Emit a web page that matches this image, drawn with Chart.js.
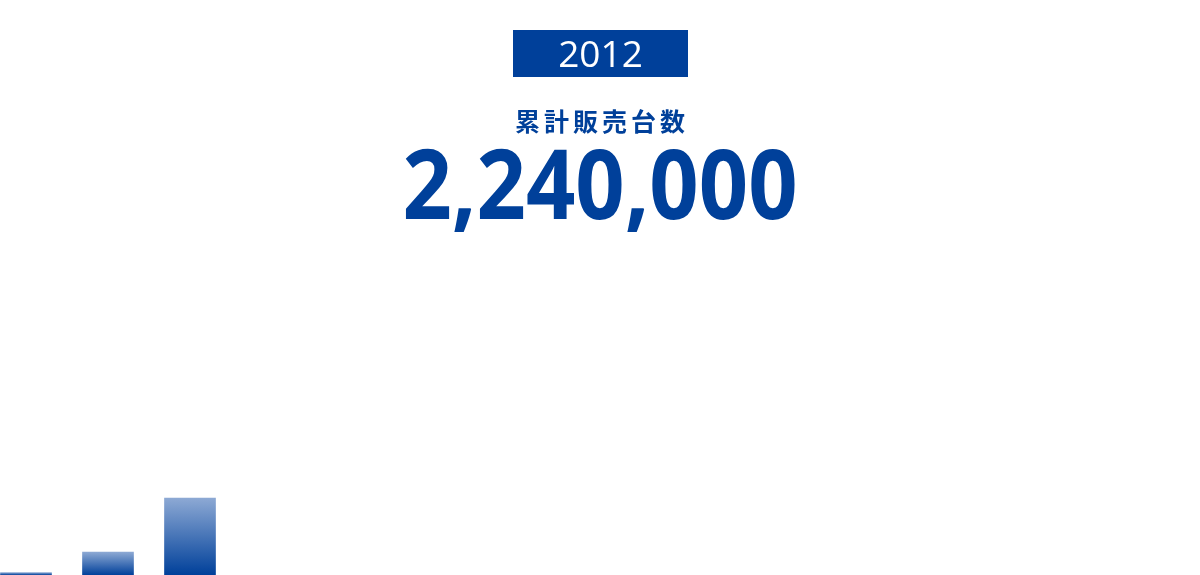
<!DOCTYPE html>
<html lang="ja">
<head>
<meta charset="utf-8">
<title>累計販売台数</title>
<script src="https://cdn.jsdelivr.net/npm/chart.js@4/dist/chart.umd.min.js"></script>
<style>
  html, body { margin: 0; padding: 0; background: #fff; overflow: hidden; }
  #wrap { position: relative; width: 1200px; height: 575px; }
  #chart { position: absolute; left: 0; top: 0; }
  .year {
    position: absolute; left: 513px; top: 30px; width: 175px; height: 47px;
    background: #00409a;
  }
  .year span {
    position: absolute; left: 0; width: 175px; top: 4px; text-align: center;
    color: #fff; font-family: "Open Sans", sans-serif; font-size: 37px; line-height: 37px;
  }
  .label {
    position: absolute; left: 0; width: 1204px; top: 108px; text-align: center;
    color: #00409a; font-family: "Noto Sans CJK JP", sans-serif; font-size: 25px;
    line-height: 25px; letter-spacing: 4px; font-weight: 600;
  }
  .total {
    position: absolute; left: 0; width: 1200px; top: 134px; text-align: center;
    color: #00409a; font-family: "Open Sans", sans-serif; font-weight: 700;
    font-size: 96px; line-height: 96px; transform: scaleX(0.9);
  }
</style>
</head>
<body>
<div id="wrap">
  <canvas id="chart" width="1200" height="575"></canvas>
  <div class="year"><span id="yearText"></span></div>
  <div class="label" id="labelText"></div>
  <div class="total" id="totalText"></div>
</div>
<script>
const years = ["2010", "2011", "2012"];
const cumulativeSales = [73000, 670000, 2240000];
const currentYear = "2012";
const totalLabel = "累計販売台数";

document.addEventListener("DOMContentLoaded", function () {
  showHeader();
  drawChart();
});

function showHeader() {
  const last = cumulativeSales[cumulativeSales.length - 1];
  document.getElementById("yearText").innerText = currentYear;
  document.getElementById("labelText").innerText = totalLabel;
  document.getElementById("totalText").innerText = last.toLocaleString("en-US");
}

function barGradient(context) {
  const chart = context.chart;
  const yScale = chart.scales.y;
  const value = context.dataIndex !== undefined ? cumulativeSales[context.dataIndex] : undefined;
  if (!yScale || value === undefined) {
    return "#3a68b0";
  }
  const top = yScale.getPixelForValue(value);
  const bottom = yScale.getPixelForValue(0);
  if (!isFinite(top) || !isFinite(bottom)) {
    return "#3a68b0";
  }
  const g = chart.ctx.createLinearGradient(0, top, 0, bottom);
  g.addColorStop(0, "#8da9d4");
  g.addColorStop(1, "#00409a");
  return g;
}

function drawChart() {
  const points = years.map((year, i) => ({ x: i, y: cumulativeSales[i] }));
  const ctx = document.getElementById("chart").getContext("2d");

  new Chart(ctx, {
    type: "bar",
    data: {
      labels: years,
      datasets: [{
        data: points,
        backgroundColor: barGradient,
        borderWidth: 0,
        barThickness: 51
      }]
    },
    options: {
      responsive: false,
      animation: false,
      layout: { padding: 0 },
      plugins: {
        legend: { display: false },
        tooltip: { enabled: false }
      },
      scales: {
        x: {
          type: "linear",
          display: false,
          offset: false,
          min: -26 / 82,
          max: -26 / 82 + 1200 / 82
        },
        y: {
          display: false,
          min: 0,
          max: 2240000 * 575 / 77
        }
      }
    }
  });
}
</script>
</body>
</html>
